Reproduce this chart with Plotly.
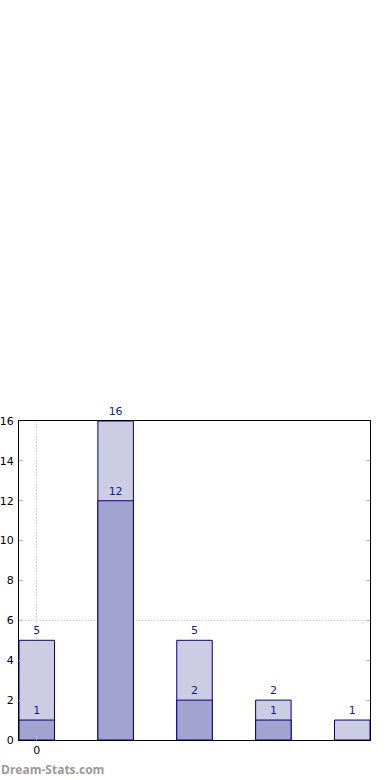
import plotly.graph_objects as go

categories = [0, 1, 2, 3, 4]
total_values = [5, 16, 5, 2, 1]
subset_values = [1, 12, 2, 1, 0]
y_ticks = [0, 2, 4, 6, 8, 10, 12, 14, 16]
ref_line = 6

light = "#cccce3"
dark = "#a3a3d0"
edge = "#000080"
txt = "#1a1a99"

fig = go.Figure()
fig.add_trace(go.Bar(
    x=categories, y=total_values, width=0.45,
    marker=dict(color=light, line=dict(color=edge, width=1)),
    text=[str(v) for v in total_values], textposition="outside",
    textfont=dict(color=txt, size=11, family="DejaVu Sans"),
    cliponaxis=False, showlegend=False,
))
sub_y = [v if v > 0 else None for v in subset_values]
sub_text = [str(v) if v > 0 else "" for v in subset_values]
fig.add_trace(go.Bar(
    x=categories, y=sub_y, width=0.45,
    marker=dict(color=dark, line=dict(color=edge, width=1)),
    text=sub_text, textposition="outside",
    textfont=dict(color=txt, size=11, family="DejaVu Sans"),
    cliponaxis=False, showlegend=False,
))
fig.add_hline(y=ref_line, line=dict(color="#c8c8c8", width=1, dash="1px,2px"), layer="below")

fig.update_layout(
    width=390, height=780, barmode="overlay",
    margin=dict(l=19, r=20, t=421, b=40),
    plot_bgcolor="white", paper_bgcolor="white",
    font=dict(family="DejaVu Sans", size=11, color="black"),
    xaxis=dict(range=[-0.225, 4.225], tickvals=[0], ticktext=["0"], automargin=False,
               showgrid=True, gridcolor="#c8c8c8", griddash="1px,2px", gridwidth=1,
               showline=True, linecolor="black", linewidth=1, mirror=True,
               ticks="inside", ticklen=4, tickcolor="#c0c0c0", zeroline=False),
    yaxis=dict(range=[0, 16], tickvals=y_ticks, showgrid=False, automargin=False,
               showline=True, linecolor="black", linewidth=1, mirror="ticks",
               ticks="inside", ticklen=4, tickcolor="#c0c0c0", zeroline=False,
               ticklabelstandoff=2),
    annotations=[dict(text="<b>Dream-Stats.com</b>", xref="paper", yref="paper",
                      x=0, y=0, xshift=-20, yshift=-40, xanchor="left", yanchor="bottom",
                      showarrow=False, font=dict(size=12, color="#999999", family="Open Sans"))],
)
fig.write_html("out.html")
